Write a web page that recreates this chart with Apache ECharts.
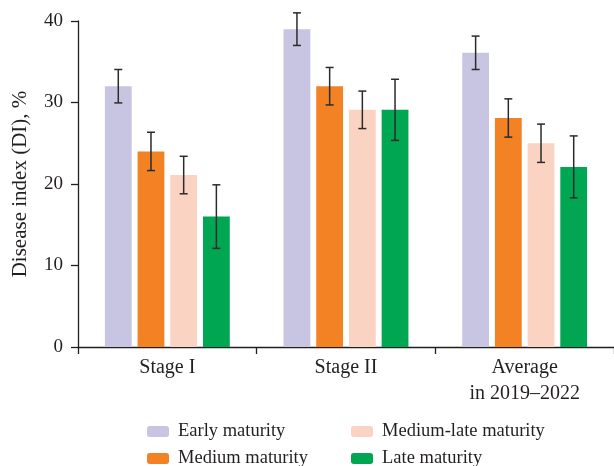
<!DOCTYPE html>
<html>
<head>
<meta charset="utf-8">
<script src="https://cdn.jsdelivr.net/npm/echarts@6/dist/echarts.min.js"></script>
<style>html,body{margin:0;padding:0;background:#fff}#c{width:614px;height:466px}</style>
</head>
<body>
<div id="c"></div>
<script>
const categories = ['Stage I', 'Stage II', 'Average\nin 2019–2022'];
const seriesNames = ['Early maturity', 'Medium maturity', 'Medium-late maturity', 'Late maturity'];
const earlyValues = [32, 39, 36.1];
const mediumValues = [24, 32, 28.1];
const mediumLateValues = [21.1, 29.1, 25];
const lateValues = [16, 29.1, 22.1];
const earlyErrors = [2.05, 2.0, 2.05];
const mediumErrors = [2.35, 2.3, 2.35];
const mediumLateErrors = [2.3, 2.3, 2.35];
const lateErrors = [3.9, 3.75, 3.8];
const yTicks = [0, 10, 20, 30, 40];

const values = [earlyValues, mediumValues, mediumLateValues, lateValues];
const errors = [earlyErrors, mediumErrors, mediumLateErrors, lateErrors];
const colors = ['#C8C5E2', '#F28224', '#FBD3C2', '#00A651'];
const font = 'Liberation Serif';
const ink = '#231f20';
const BAR_W = 0.15, BAR_GAP = 0.22;

const chart = echarts.init(document.getElementById('c'));
const series = [];
values.forEach((vals, i) => {
  series.push({
    name: seriesNames[i], type: 'bar', data: vals,
    barWidth: (BAR_W * 100) + '%', barGap: (BAR_GAP * 100) + '%',
    itemStyle: { color: colors[i] }, silent: true
  });
});
values.forEach((vals, i) => {
  series.push({
    type: 'custom', silent: true, z: 10,
    data: vals.map((v, k) => [k, v, errors[i][k]]),
    renderItem: function (params, api) {
      const band = api.size([1, 0])[0];
      const bw = band * BAR_W, gap = bw * BAR_GAP;
      const off = (i - 1.5) * (bw + gap);
      const c = api.value(0), v = api.value(1), e = api.value(2);
      const hi = api.coord([c, v + e]), lo = api.coord([c, v - e]);
      const x = hi[0] + off, cap = 4;
      const st = { stroke: '#2b2b2b', lineWidth: 1.5 };
      return { type: 'group', children: [
        { type: 'line', shape: { x1: x, y1: hi[1], x2: x, y2: lo[1] }, style: st },
        { type: 'line', shape: { x1: x - cap, y1: hi[1], x2: x + cap, y2: hi[1] }, style: st },
        { type: 'line', shape: { x1: x - cap, y1: lo[1], x2: x + cap, y2: lo[1] }, style: st }
      ]};
    }
  });
});

const legendText = { fontFamily: font, fontSize: 18.5, color: ink, padding: [0, 0, 0, 4] };
const legendPos = [[147, 422], [147, 449], [351, 422], [351, 449]];
const legends = seriesNames.map((n, i) => ({
  data: [n], left: legendPos[i][0], top: legendPos[i][1], padding: 0,
  itemWidth: 22, itemHeight: 11, textStyle: legendText, selectedMode: false
}));

chart.setOption({
  animation: false,
  grid: { left: 78, right: 0, top: 21, bottom: 119 },
  legend: legends,
  xAxis: {
    type: 'category', data: categories,
    axisLine: { lineStyle: { color: ink, width: 1.3 } },
    axisTick: { show: true, length: 7, lineStyle: { color: ink, width: 1.3 } },
    axisLabel: { fontFamily: font, fontSize: 20, color: ink, margin: 8, lineHeight: 26 }
  },
  yAxis: {
    type: 'value', min: yTicks[0], max: yTicks[yTicks.length - 1], interval: 10,
    splitLine: { show: false },
    axisLine: { show: true, lineStyle: { color: ink, width: 1.3 } },
    axisTick: { show: true, length: 7, lineStyle: { color: ink, width: 1.3 } },
    axisLabel: { fontFamily: font, fontSize: 19, color: ink, margin: 15 },
    name: 'Disease index (DI), %', nameLocation: 'middle', nameGap: 47,
    nameTextStyle: { fontFamily: font, fontSize: 21, color: ink }
  },
  series: series
});
</script>
</body>
</html>
